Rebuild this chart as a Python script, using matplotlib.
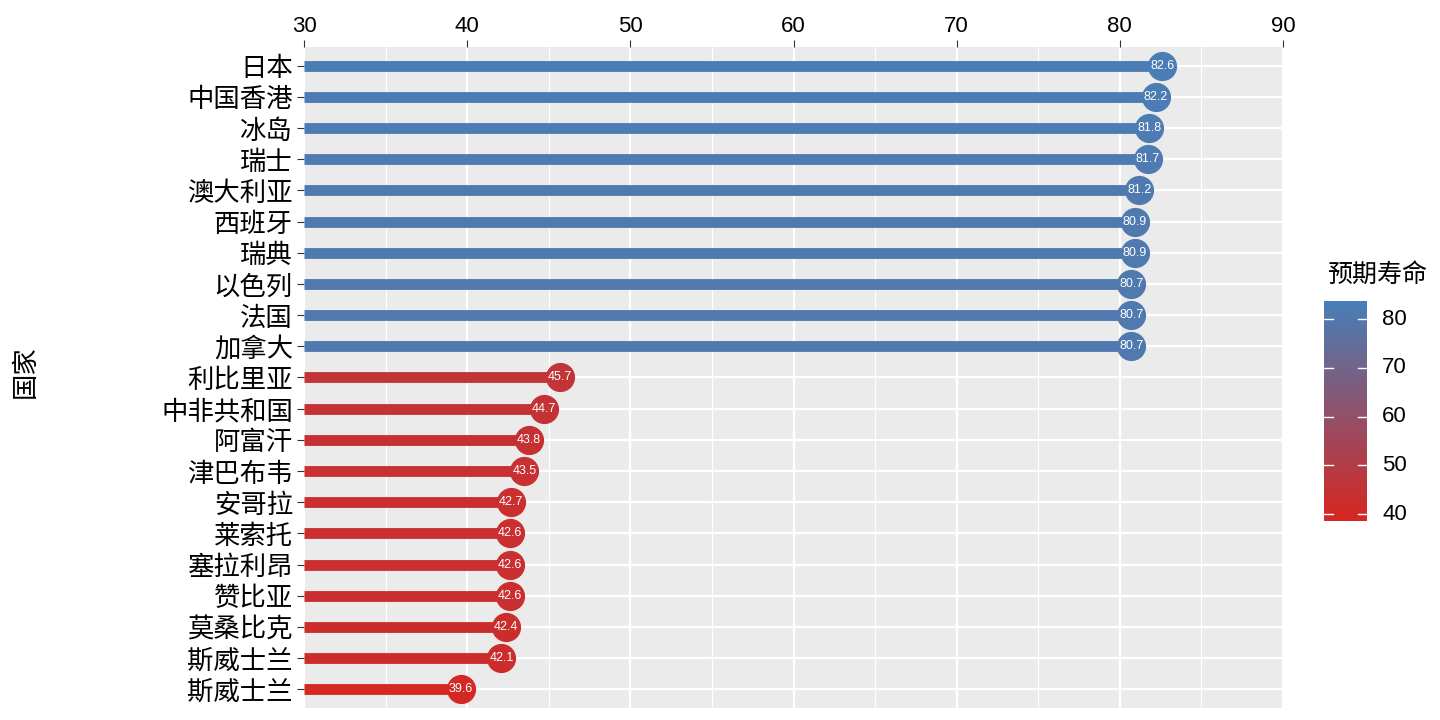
import matplotlib
matplotlib.use("Agg")
import matplotlib.pyplot as plt
import numpy as np
from matplotlib.colors import LinearSegmentedColormap, Normalize
from matplotlib.ticker import MultipleLocator

plt.rcParams['font.family'] = ['Noto Sans CJK SC', 'DejaVu Sans']
NUM_FONT = ['Liberation Sans', 'DejaVu Sans']

# 数据：预期寿命最高与最低的国家（从上到下）
countries = ["日本", "中国香港", "冰岛", "瑞士", "澳大利亚", "西班牙", "瑞典",
             "以色列", "法国", "加拿大", "利比里亚", "中非共和国", "阿富汗",
             "津巴布韦", "安哥拉", "莱索托", "塞拉利昂", "赞比亚", "莫桑比克",
             "斯威士兰", "斯威士兰"]
life_exp = [82.6, 82.2, 81.8, 81.7, 81.2, 80.9, 80.9, 80.7, 80.7, 80.7,
            45.7, 44.7, 43.8, 43.5, 42.7, 42.6, 42.6, 42.6, 42.4, 42.1, 39.6]
x_ticks = [30, 40, 50, 60, 70, 80, 90]
cbar_ticks = [40, 50, 60, 70, 80]

cmap = LinearSegmentedColormap.from_list("life", ["#D42824", "#4A7DB5"])
norm = Normalize(vmin=min(life_exp), vmax=max(life_exp))

fig = plt.figure(figsize=(14.4, 7.2), dpi=100)
ax = fig.add_axes([304 / 1440, 1 - 708 / 720, (1283 - 304) / 1440, (708 - 47) / 720])
ax.set_facecolor("#EBEBEB")

n = len(countries)
ypos = np.arange(n)[::-1]
for y, v in zip(ypos, life_exp):
    c = cmap(norm(v))
    ax.plot([30, v], [y, y], color=c, lw=7.8, solid_capstyle="butt", zorder=3)
    ax.plot(v, y, "o", color=c, ms=20, mec=c, zorder=4)
    ax.text(v, y, f"{v:.1f}", color="white", fontsize=9, ha="center",
            va="center", family=NUM_FONT, zorder=5)

ax.set_xlim(30, 90)
ax.set_ylim(-0.6, n - 0.4)
ax.xaxis.set_minor_locator(MultipleLocator(5))
ax.set_xticks(x_ticks)
ax.set_xticklabels([str(t) for t in x_ticks], family=NUM_FONT, fontsize=16)
ax.set_yticks(ypos)
ax.set_yticklabels(countries, fontsize=19)
ax.xaxis.tick_top()
ax.tick_params(axis="x", which="major", length=5, color="#333333", pad=2)
ax.tick_params(axis="x", which="minor", length=0)
ax.tick_params(axis="y", length=5, color="#333333", pad=3)
ax.grid(True, which="major", color="white", lw=1.6, zorder=1)
ax.grid(True, which="minor", axis="x", color="white", lw=0.8, zorder=1)
for s in ax.spines.values():
    s.set_visible(False)
ax.set_axisbelow(True)
fig.text(25 / 1440, 1 - 372 / 720, "国家", rotation=90, fontsize=19,
         ha="center", va="center")

# 图例色条
cax = fig.add_axes([1324 / 1440, 1 - 521 / 720, 43 / 1440, 220 / 720])
lo, hi = 38.6, 83.7
grad = np.linspace(lo, hi, 256).reshape(-1, 1)
cax.imshow(grad, extent=[0, 1, lo, hi], origin="lower", aspect="auto",
           cmap=cmap, norm=norm)
cax.set_xlim(0, 1)
cax.set_ylim(lo, hi)
cax.set_xticks([])
cax.set_yticks([])
for s in cax.spines.values():
    s.set_visible(False)
for t in cbar_ticks:
    cax.plot([0, 0.2], [t, t], color="white", lw=1)
    cax.plot([0.8, 1], [t, t], color="white", lw=1)
    cax.text(1.35, t, str(t), fontsize=16, va="center", ha="left",
             family=NUM_FONT)
fig.text(1377 / 1440, 1 - 275 / 720, "预期寿命", fontsize=18, ha="center",
         va="center")

fig.savefig("out.png", dpi=100)
